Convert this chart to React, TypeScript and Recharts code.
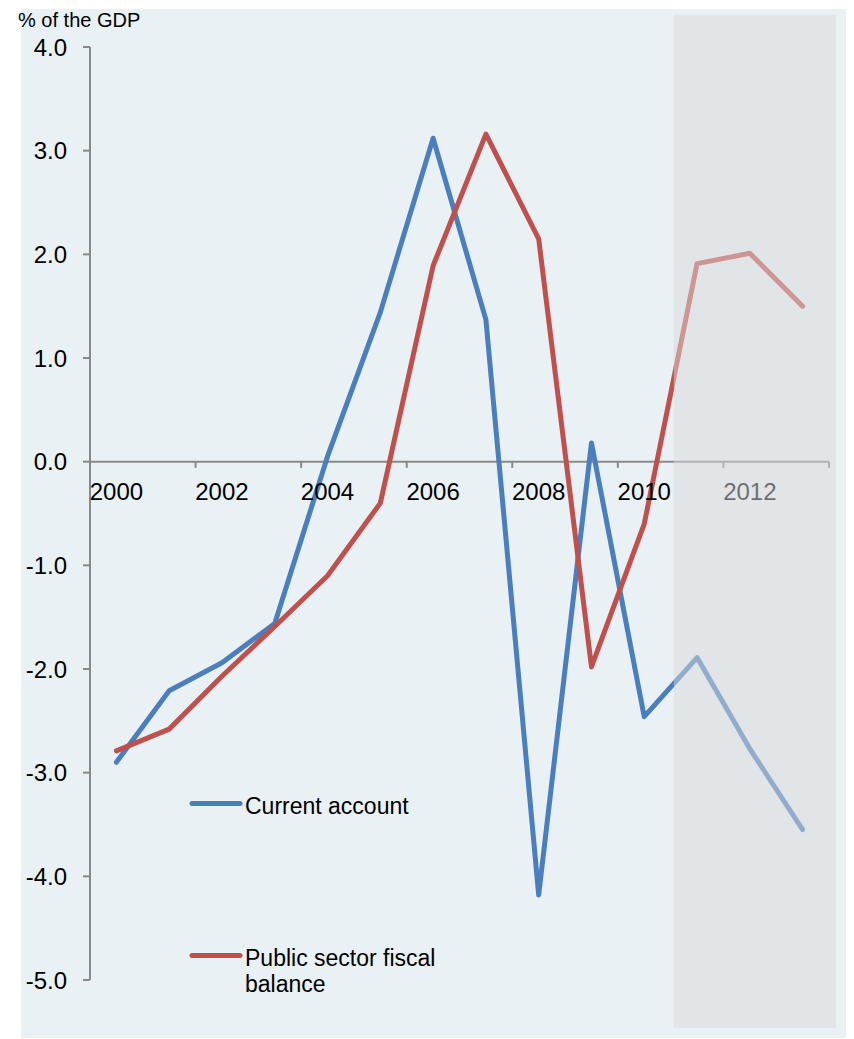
import React from "react";
import {
  LineChart,
  Line,
  XAxis,
  YAxis,
  ReferenceLine,
  ReferenceDot,
  ReferenceArea,
} from "recharts";

const years = [2000, 2001, 2002, 2003, 2004, 2005, 2006, 2007, 2008, 2009, 2010, 2011, 2012, 2013];
const currentAccount = [-2.9, -2.21, -1.94, -1.56, 0.05, 1.44, 3.12, 1.37, -4.18, 0.18, -2.46, -1.89, -2.77, -3.55];
const fiscalBalance = [-2.79, -2.58, -2.07, -1.59, -1.1, -0.4, 1.89, 3.16, 2.15, -1.98, -0.6, 1.91, 2.01, 1.5];

const yTicks = [-5, -4, -3, -2, -1, 0, 1, 2, 3, 4];
const yearLabels = [2000, 2002, 2004, 2006, 2008, 2010, 2012];
// tick marks sit between categories, every two years
const yearBounds = [1999.5, 2001.5, 2003.5, 2005.5, 2007.5, 2009.5, 2011.5, 2013.5];

const data = years.map((year, i) => ({
  year,
  current: currentAccount[i],
  fiscal: fiscalBalance[i],
}));

const FONT = "'Liberation Sans', Arial, sans-serif";
const AXIS = "#898989";
const BLUE = "#4a7ebd";
const RED = "#c0504d";

function LegendItem({ color, top, children }: { color: string; top: number; children: React.ReactNode }) {
  return (
    <div style={{ position: "absolute", left: 168, top, display: "flex", alignItems: "flex-start" }}>
      <svg width={56} height={26} style={{ flex: "none" }}>
        <line x1={3} y1={10.5} x2={51} y2={10.5} stroke={color} strokeWidth={5} strokeLinecap="round" />
      </svg>
      <div style={{ fontFamily: FONT, fontSize: 23, lineHeight: "26px", color: "#000", width: 200 }}>
        {children}
      </div>
    </div>
  );
}

export default function App() {
  return (
    <div style={{ position: "relative", left: 13, top: 1, width: 830, height: 1030, background: "#e9f1f5" }}>
      <LineChart
        width={830}
        height={1030}
        data={data}
        margin={{ top: 38, right: 22, bottom: 59, left: 14 }}
      >
        <XAxis dataKey="year" type="number" domain={[1999.5, 2013.5]} hide />
        <YAxis
          type="number"
          domain={[-5, 4]}
          ticks={yTicks}
          width={55}
          tickFormatter={(v: number) => v.toFixed(1)}
          axisLine={{ stroke: AXIS, strokeWidth: 2 }}
          tickLine={{ stroke: AXIS, strokeWidth: 2 }}
          tickSize={7}
          tickMargin={16}
          tick={{ fill: "#000", fontSize: 24, fontFamily: FONT }}
        />
        <ReferenceLine y={0} stroke={AXIS} strokeWidth={2} />
        {yearBounds.map((b) => (
          <ReferenceLine
            key={b}
            segment={[
              { x: b, y: 0 },
              { x: b, y: -0.06 },
            ]}
            stroke={AXIS}
            strokeWidth={2}
          />
        ))}
        {yearLabels.map((y) => (
          <ReferenceDot
            key={y}
            x={y}
            y={0}
            r={0}
            fill="none"
            stroke="none"
            label={{ value: String(y), position: "bottom", offset: 21, fill: "#000", fontSize: 24, fontFamily: FONT }}
          />
        ))}
        <Line
          dataKey="current"
          stroke={BLUE}
          strokeWidth={5}
          strokeLinejoin="round"
          strokeLinecap="round"
          dot={false}
          activeDot={false}
          isAnimationActive={false}
        />
        <Line
          dataKey="fiscal"
          stroke={RED}
          strokeWidth={5}
          strokeLinejoin="round"
          strokeLinecap="round"
          dot={false}
          activeDot={false}
          isAnimationActive={false}
        />
        {/* forecast years, washed over the lines */}
        <ReferenceArea
          x1={2010.56}
          x2={2013.63}
          y1={4.31}
          y2={-5.46}
          ifOverflow="visible"
          fill="#d9d9db"
          fillOpacity={0.5}
          stroke="none"
          zIndex={2500}
        />
      </LineChart>
      <div
        style={{
          position: "absolute",
          left: -3,
          top: 0,
          fontFamily: FONT,
          fontSize: 20,
          lineHeight: "23px",
          color: "#000",
          whiteSpace: "nowrap",
        }}
      >
        % of the GDP
      </div>
      <LegendItem color={BLUE} top={784}>
        Current account
      </LegendItem>
      <LegendItem color={RED} top={936}>
        Public sector fiscal balance
      </LegendItem>
    </div>
  );
}
